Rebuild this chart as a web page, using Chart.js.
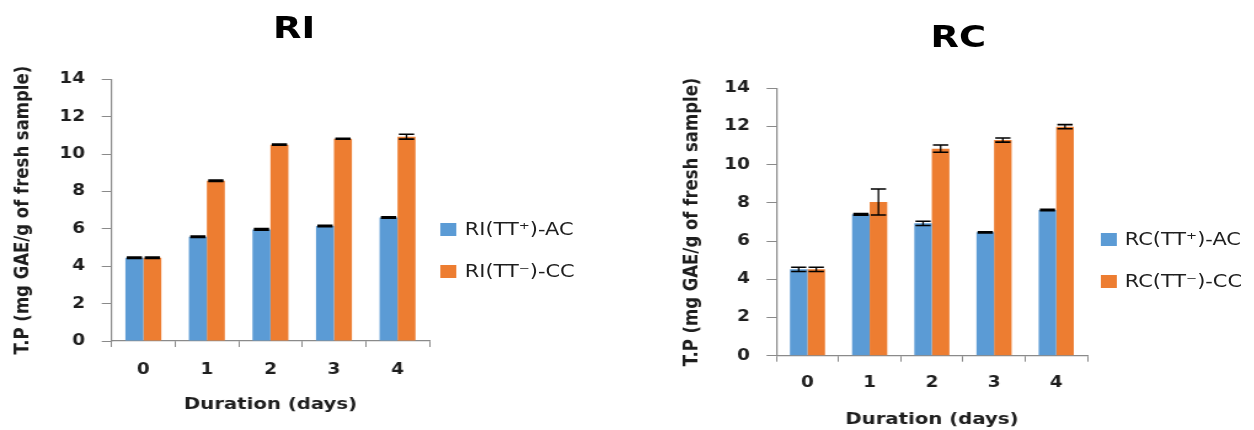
<!DOCTYPE html>
<html><head><meta charset="utf-8">
<script src="https://cdn.jsdelivr.net/npm/chart.js@4.4.1/dist/chart.umd.min.js"></script>
<style>
html,body{margin:0;padding:0;background:#fff;overflow:hidden;width:1254px;height:430px;}
#stage{position:absolute;left:0;top:0;width:1019.5px;height:430px;transform:scaleX(1.23);transform-origin:0 0;font-family:"DejaVu Sans",sans-serif;}
.box{position:absolute;top:0;height:430px;}
.ttl{position:absolute;font-weight:bold;font-size:30px;line-height:30px;color:#000;text-align:center;width:100px;}
.leg{position:absolute;font-size:17px;color:#1e1e1e;}
.leg .it{position:absolute;left:0;display:flex;align-items:center;white-space:nowrap;line-height:13px;}
.leg .sw{width:13px;height:13px;margin-right:6.5px;flex:none;}
</style></head><body>
<div id="stage">
  <div class="ttl" style="left:189.2px;top:12.6px;">RI</div>
  <div class="ttl" style="left:729.1px;top:22.3px;">RC</div>
  <div class="box" style="left:0px;width:354px;"><canvas id="c1"></canvas></div>
  <div class="box" style="left:544.3px;width:345px;"><canvas id="c2"></canvas></div>
  <div class="leg" id="leg1" style="left:358.3px;top:222.7px;"></div>
  <div class="leg" id="leg2" style="left:894.9px;top:233.3px;"></div>
</div>
<script>
// ---- data ----
const days = ['0', '1', '2', '3', '4'];
const riLabels = ['RI(TT\u207A)-AC', 'RI(TT\u207B)-CC'];
const rcLabels = ['RC(TT\u207A)-AC', 'RC(TT\u207B)-CC'];
const riAC = [4.45, 5.58, 5.97, 6.15, 6.61];
const riCC = [4.45, 8.57, 10.50, 10.82, 10.93];
const riACErr = [0.04, 0.04, 0.04, 0.04, 0.04];
const riCCErr = [0.04, 0.04, 0.03, 0.03, 0.13];
const rcAC = [4.52, 7.40, 6.93, 6.46, 7.63];
const rcCC = [4.52, 8.05, 10.84, 11.29, 11.99];
const rcACErr = [0.11, 0.04, 0.11, 0.03, 0.04];
const rcCCErr = [0.11, 0.68, 0.19, 0.11, 0.11];
const yMin = 0, yMax = 14, yStep = 2;
const yTitle = 'T.P (mg GAE/g of fresh sample)';
const xTitle = 'Duration (days)';
const colors = ['#5B9BD5', '#ED7D31'];

const errorBars = {
  id: 'errorBars',
  afterDatasetsDraw(chart) {
    const ctx = chart.ctx, ys = chart.scales.y;
    ctx.save();
    ctx.strokeStyle = '#000';
    chart.data.datasets.forEach((ds, di) => {
      const meta = chart.getDatasetMeta(di);
      meta.data.forEach((bar, i) => {
        const v = ds.data[i], e = ds.errors[i];
        const yt = ys.getPixelForValue(v + e), yb = ys.getPixelForValue(v - e);
        const x = bar.x, hw = 6.2;
        ctx.lineWidth = 1.3;
        ctx.beginPath(); ctx.moveTo(x, yt); ctx.lineTo(x, yb); ctx.stroke();
        ctx.lineWidth = 1.6;
        ctx.beginPath();
        ctx.moveTo(x - hw, yt); ctx.lineTo(x + hw, yt);
        ctx.moveTo(x - hw, yb); ctx.lineTo(x + hw, yb);
        ctx.stroke();
      });
    });
    ctx.restore();
  }
};

function makeChart(id, labels, s1, s2, e1, e2, g) {
  const axisColor = '#8a8a8a';
  return new Chart(document.getElementById(id), {
    type: 'bar',
    data: {
      labels: days,
      datasets: [
        { label: labels[0], data: s1, errors: e1, backgroundColor: colors[0], borderWidth: 0,
          categoryPercentage: 0.565, barPercentage: 1.0 },
        { label: labels[1], data: s2, errors: e2, backgroundColor: colors[1], borderWidth: 0,
          categoryPercentage: 0.565, barPercentage: 1.0 }
      ]
    },
    options: {
      responsive: true, maintainAspectRatio: false, animation: false, events: [],
      layout: { padding: { top: g.padTop, right: g.padRight, left: 0, bottom: 0 } },
      plugins: { legend: { display: false }, title: { display: false }, tooltip: { enabled: false } },
      scales: {
        x: {
          afterFit(sc) { sc.height = g.xH; },
          grid: { display: true, drawOnChartArea: false, drawTicks: true, tickLength: 6, color: axisColor, lineWidth: 1, offset: true },
          border: { display: true, color: axisColor, width: 1.2 },
          ticks: { color: '#1e1e1e', padding: g.xTickPad, font: { family: 'DejaVu Sans', size: 15, weight: 'bold' } },
          title: { display: true, text: xTitle, color: '#1e1e1e', padding: { top: 0, bottom: g.xTitlePad },
                   font: { family: 'DejaVu Sans', size: 16, weight: 'bold' } }
        },
        y: {
          min: yMin, max: yMax,
          afterFit(sc) { sc.width = g.yW; },
          grid: { display: true, drawOnChartArea: false, drawTicks: true, tickLength: 8, color: axisColor, lineWidth: 1 },
          border: { display: true, color: axisColor, width: 1.2 },
          ticks: { stepSize: yStep, color: '#1e1e1e', padding: 13.5, font: { family: 'DejaVu Sans', size: 15, weight: 'bold' } },
          title: { display: true, text: yTitle, color: '#1e1e1e', padding: { top: 8.4, bottom: 0 },
                   font: { family: 'DejaVu Sans', size: 16.5, weight: 'bold' } }
        }
      }
    },
    plugins: [errorBars]
  });
}

function htmlLegend(chart, elId) {
  const el = document.getElementById(elId);
  chart.data.datasets.forEach((ds, i) => {
    const it = document.createElement('div');
    it.className = 'it';
    it.style.top = (i * 42.2) + 'px';
    const sw = document.createElement('span');
    sw.className = 'sw';
    sw.style.background = ds.backgroundColor;
    const tx = document.createElement('span');
    tx.textContent = ds.label;
    it.appendChild(sw); it.appendChild(tx);
    el.appendChild(it);
  });
}

const ch1 = makeChart('c1', riLabels, riAC, riCC, riACErr, riCCErr,
  { padTop: 79.3, padRight: 5, xH: 89, yW: 90.7, xTickPad: 14, xTitlePad: 15.5 });
const ch2 = makeChart('c2', rcLabels, rcAC, rcCC, rcACErr, rcCCErr,
  { padTop: 88.3, padRight: 5, xH: 74.3, yW: 87.2, xTickPad: 12, xTitlePad: 1.0 });
htmlLegend(ch1, 'leg1');
htmlLegend(ch2, 'leg2');
</script>
</body></html>
